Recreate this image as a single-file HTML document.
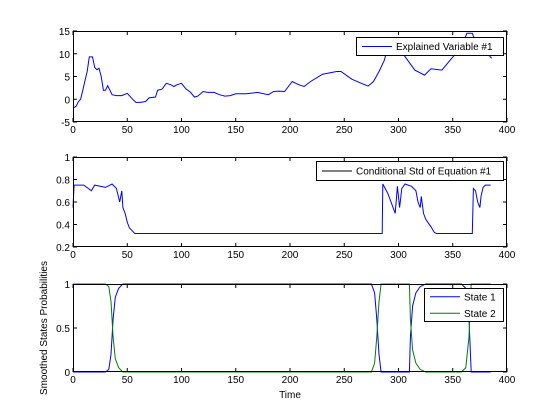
<!DOCTYPE html>
<html><head><meta charset="utf-8"><style>
html,body{margin:0;padding:0;background:#fff;}
svg{display:block;font-family:"Liberation Sans",Arial,sans-serif;}
text{font-size:10px;fill:#000;}
</style></head><body>
<svg id="fig" width="560" height="419" viewBox="0 0 560 419"></svg>
<script>
// ---- Data ----
const varT = [0,3,5,7,9,11,13,15,18,20,22,24,26,28,30,32,34,36,40,45,50,55,58,62,67,70,76,78,82,86,90,93,96,100,104,108,112,115,120,124,130,135,140,145,150,160,170,180,185,190,195,202,208,213,219,230,243,247,257,265,272,277,282,287,291,297,301,305,315,324,330,340,349,358,363,368,371,386];
const varV = [-2,-1.5,-0.5,0,2,4,6,9.3,9.3,7,6.5,6.8,5,2,2,3,2,1,0.8,0.8,1.3,0,-0.7,-0.7,-0.5,0.3,0.5,2,2.2,3.5,3.2,2.8,3.2,3.5,2.3,1.6,0.5,0.7,1.7,1.5,1.5,1,0.7,0.8,1.2,1.2,1.5,1.0,1.7,1.8,1.7,3.9,3.2,2.8,3.9,5.5,6.1,6.1,4.4,3.6,2.9,3.9,6.1,8.6,12.3,13,11,9.7,6.4,5.3,6.7,6.4,9,11.5,14.5,14.5,12.7,9];
const stdT = [0,1,10,17,20,30,36,40,43,45,46,48,50,52,55,57,285,285.5,290,295,297,299,301,303,306,312,316,318,320,321,323,325,327,330,333,335,368,369,371,373,375,376,378,380,385];
const stdV = [0.55,0.75,0.75,0.7,0.75,0.73,0.76,0.72,0.6,0.7,0.55,0.5,0.42,0.37,0.34,0.32,0.32,0.76,0.68,0.55,0.5,0.74,0.55,0.72,0.76,0.74,0.7,0.6,0.55,0.65,0.5,0.45,0.42,0.38,0.33,0.32,0.32,0.72,0.7,0.6,0.55,0.65,0.73,0.75,0.75];
const probT = [0,30,33,35,37,39,42,46,275,278,280,282,284,310,311,313,316,320,325,358,362,365,367,385];
const s1V = [0,0,0.03,0.2,0.6,0.85,0.95,1,1,0.9,0.6,0.2,0,0,0.4,0.75,0.9,0.97,1,1,0.95,0.6,0,0];
const s2V = s1V.map(v=>1-v);
const xTicks = [0,50,100,150,200,250,300,350,400];
const y1Ticks = [-5,0,5,10,15];
const y2Ticks = [0.2,0.4,0.6,0.8,1];
const y3Ticks = [0,0.5,1];

const NS="http://www.w3.org/2000/svg";
const svg=document.getElementById('fig');
function mk(tag,attrs,parent){const e=document.createElementNS(NS,tag);for(const k in attrs)e.setAttribute(k,attrs[k]);(parent||svg).appendChild(e);return e;}
const X0=73,X1=507;
function xs(t){return X0+(t)/400*(X1-X0);}

function axes(name,top,bot,ymin,ymax,yT,yFmt){
  const g=mk('g',{});
  
  
  const ys=v=>bot-(v-ymin)/(ymax-ymin)*(bot-top);
  mk('rect',{x:X0,y:top,width:X1-X0,height:bot-top,fill:'#fff',stroke:'none'},g);
  xTicks.forEach(t=>{
    const x=xs(t);
    mk('line',{x1:x,y1:bot,x2:x,y2:bot-4,stroke:'#000','stroke-width':1},g);
    mk('line',{x1:x,y1:top,x2:x,y2:top+4,stroke:'#000','stroke-width':1},g);
    const tx=mk('text',{x:x,y:bot+11,'text-anchor':'middle'},g);tx.textContent=t;
    
    
  });
  yT.forEach(v=>{
    const y=ys(v);
    mk('line',{x1:X0,y1:y,x2:X0+4,y2:y,stroke:'#000','stroke-width':1},g);
    mk('line',{x1:X1,y1:y,x2:X1-4,y2:y,stroke:'#000','stroke-width':1},g);
    const tx=mk('text',{x:X0-3,y:y+4,'text-anchor':'end'},g);tx.textContent=yFmt(v);
    
    
  });
  return {g,ys,top,bot};
}
function line(ax,T,V,color,name){
  const pts=T.map((t,i)=>xs(t).toFixed(1)+','+ax.ys(V[i]).toFixed(1)).join(' ');
  const p=mk('polyline',{points:pts,fill:'none',stroke:color,'stroke-width':1},ax.g);
  
  
}
function frame(ax){mk('rect',{x:X0+0.5,y:ax.top+0.5,width:X1-X0-1,height:ax.bot-ax.top-1,fill:'none',stroke:'#000','stroke-width':1},ax.g);}
function legend(name,x,y,w,h,entries){
  const g=mk('g',{});
  
  
  mk('rect',{x:x+0.5,y:y+0.5,width:w,height:h,fill:'#fff',stroke:'#000','stroke-width':1},g);
  entries.forEach((e,i)=>{
    const cy=y+h/(entries.length)*(i+0.5)+0.5;
    mk('line',{x1:x+6,y1:cy,x2:x+36,y2:cy,stroke:e[1],'stroke-width':1},g);
    const t=mk('text',{x:x+40,y:cy+3.5},g);t.textContent=e[0];
    
    
  });
}

const a1=axes('explained-variable-axes',31,122,-5,15,y1Ticks,v=>v);
line(a1,varT,varV,'#0000ff','explained-variable-line');
frame(a1);
legend('legend-explained',356,37,147,18,[['Explained Variable #1','#0000ff']]);

const a2=axes('conditional-std-axes',157,247,0.2,1,y2Ticks,v=>v===1?'1':v.toFixed(1));
line(a2,stdT,stdV,'#0000ff','conditional-std-line');
frame(a2);
legend('legend-std',316,161,187,19,[['Conditional Std of Equation #1','#000000']]);

const a3=axes('state-probabilities-axes',284,372,0,1,y3Ticks,v=>v);
line(a3,probT,s1V,'#0000ff','state-1-line');
line(a3,probT,s2V,'#007f00','state-2-line');
frame(a3);
legend('legend-states',424,288,79,33,[['State 1','#0000ff'],['State 2','#007f00']]);

const xl=mk('text',{x:290,y:398,'text-anchor':'middle'});xl.textContent='Time';


const yl=mk('text',{x:0,y:0,'text-anchor':'middle',transform:'translate(47,328) rotate(-90)'});yl.textContent='Smoothed States Probabilities';


</script>
</body></html>
